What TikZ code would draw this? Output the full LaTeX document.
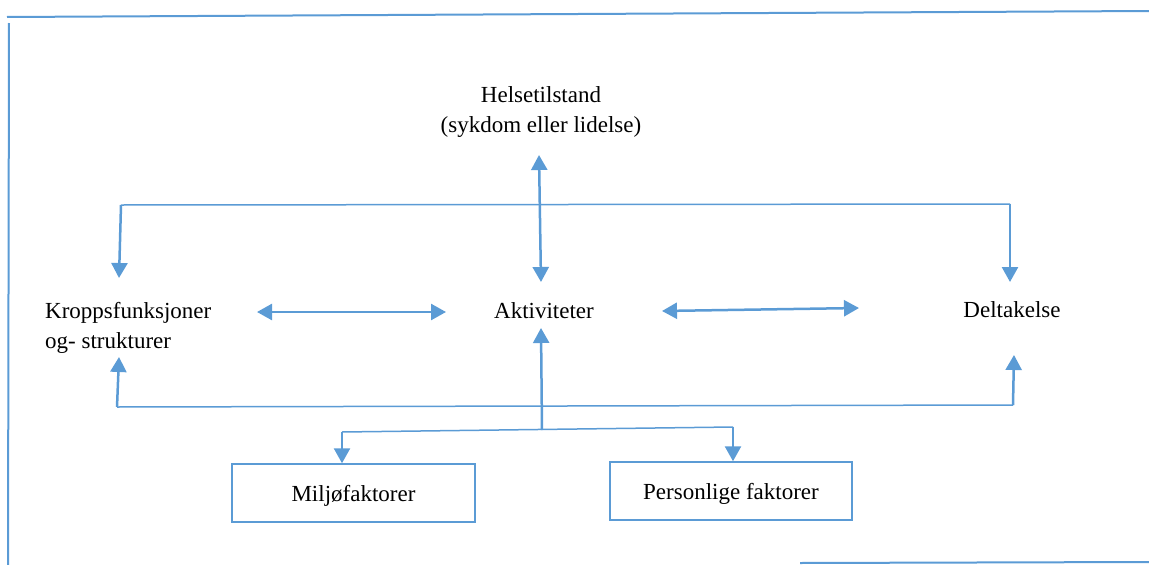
\documentclass[tikz,border=0pt]{standalone}
\usepackage{fontspec}
\setmainfont{Liberation Serif}
\usetikzlibrary{arrows.meta}
\definecolor{ablue}{HTML}{5B9BD5}
\tikzset{
  lbl/.style={font=\fontsize{23}{30}\selectfont, inner sep=0pt, align=center},
  tip/.style={-{Triangle[length=15pt,width=16pt]}},
  conn/.style={draw=ablue, line width=2.5pt, tip},
  dbl/.style={draw=ablue, line width=2.5pt, {Triangle[length=15pt,width=16pt]}-{Triangle[length=15pt,width=16pt]}},
  bus/.style={draw=ablue, line width=1.5pt},
  fbox/.style={draw=ablue, line width=1.5pt, minimum height=58pt, inner sep=0pt, text height=22pt, text depth=5pt, font=\fontsize{23}{30}\selectfont},
  frameline/.style={draw=ablue, line width=2pt}
}
\begin{document}
\begin{tikzpicture}[x=1pt,y=-1pt]
\useasboundingbox (0,0) rectangle (1149,565);
% frame
\draw[frameline] (7,17) -- (1149,11);
\draw[frameline] (9,23) -- (8,565);
\draw[frameline] (800,563) -- (1149,562);
% nodes
\node[lbl] (hel) at (541,112) {Helsetilstand\\(sykdom eller lidelse)};
\node[lbl, align=left, anchor=north west] (kro) at (45,302) {Kroppsfunksjoner\\og- strukturer};
\node[lbl] (akt) at (544,311) {Aktiviteter};
\node[lbl] (del) at (1012,310) {Deltakelse};
\node[fbox, minimum width=243pt] (mil) at (353.5,493) {Miljøfaktorer};
\node[fbox, minimum width=242pt] (per) at (731,491) {Personlige faktorer};
% junction coordinates
\coordinate (tl) at (121,205);
\coordinate (tr) at (1010,204);
\coordinate (bl) at (117,407);
\coordinate (br) at (1013,405);
\coordinate (jn) at (542,430);
\coordinate (ml) at (342,432);
\coordinate (pr) at (733,427);
% connectors
\draw[dbl] ([xshift=-2pt,yshift=-43pt]hel.center) -- ([xshift=-3pt,yshift=29pt]akt.center);
\draw[dbl] ([xshift=-287pt,yshift=-1pt]akt.center) -- ([xshift=-98pt,yshift=-1pt]akt.center);
\draw[dbl] ([xshift=118pt]akt.center) -- ([xshift=-153pt,yshift=2pt]del.center);
\draw[bus] (tl) -- (tr);
\draw[conn] (tl) -- ([xshift=74pt,yshift=24pt]kro.north west);
\draw[conn] (tr) -- ([xshift=-2pt,yshift=28pt]del.center);
\draw[bus] (bl) -- (br);
\draw[conn] (bl) -- ([xshift=74pt,yshift=-55pt]kro.north west);
\draw[conn] (br) -- ([xshift=2pt,yshift=-45pt]del.center);
\draw[conn] (jn) -- ([xshift=-3pt,yshift=-17pt]akt.center);
\draw[bus] (ml) -- (pr);
\draw[conn] (ml) -- ([xshift=-11.5pt]mil.north);
\draw[conn] (pr) -- ([xshift=2pt]per.north);
\end{tikzpicture}
\end{document}
